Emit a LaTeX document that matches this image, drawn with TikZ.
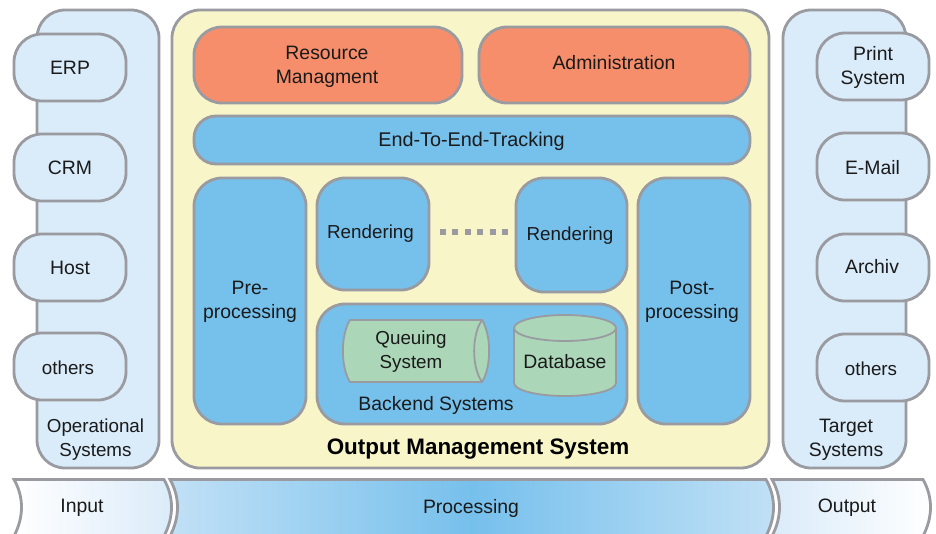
\documentclass[tikz,border=0pt]{standalone}
\usepackage{fontspec}
\setmainfont{Liberation Sans}
\definecolor{framegray}{HTML}{9A9AA1}
\definecolor{lightblue}{HTML}{DAEBF9}
\definecolor{midblue}{HTML}{76C0EC}
\definecolor{paleyellow}{HTML}{F8F5C8}
\definecolor{salmon}{HTML}{F68E6B}
\definecolor{palegreen}{HTML}{ABD7B8}
\definecolor{inktext}{HTML}{1A1A1A}
\tikzset{
  box/.style={draw=framegray, line width=2.8pt, rounded corners=28pt, align=center, inner sep=0pt,
    text=inktext, font=\fontsize{19.4}{24}\selectfont},
  sysbox/.style={box, fill=lightblue, minimum width=112pt, minimum height=67pt},
  bluebox/.style={box, fill=midblue},
  orangebox/.style={box, fill=salmon, minimum height=76pt},
  store/.style={draw=framegray, line width=1.8pt, fill=palegreen},
  storeline/.style={draw=framegray, line width=1.8pt},
  caption/.style={align=center, inner sep=0pt, text=inktext, font=\fontsize{19.4}{24}\selectfont},
  narrowcaption/.style={caption, font=\fontsize{18.8}{24}\selectfont},
  phase/.style={draw=framegray, line width=2.8pt},
}
\begin{document}
\begin{tikzpicture}[x=1pt,y=-1pt]
  \useasboundingbox (0,0) rectangle (936,533);
  % left column
  \node[box, fill=lightblue, minimum width=122pt, minimum height=458pt] (operational) at (98,239) {};
  \node[sysbox] (erp) at (70,67.5) {ERP};
  \node[sysbox] (crm) at (70,167.5) {CRM};
  \node[sysbox] (host) at (70,267.5) {};
  \node[caption] (hostlabel) at (70,268) {Host};
  \node[sysbox] (othersin) at (70,366.5) {};
  \node[narrowcaption] (othersinlabel) at (68,368) {others};
  \node[narrowcaption] (operationallabel) at (95.5,439.5) {Operational\\Systems};
  % main frame
  \node[box, fill=paleyellow, minimum width=597pt, minimum height=458pt] (main) at (470.5,239) {};
  \node[orangebox, minimum width=268pt] (resource) at (328,65) {};
  \node[orangebox, minimum width=271pt] (admin) at (614.5,65) {};
  \node[caption] (resourcelabel) at (327,67) {Resource\\Managment};
  \node[caption] (adminlabel) at (614,63) {Administration};
  \node[bluebox, minimum width=556pt, minimum height=48pt, rounded corners=22pt] (tracking) at (472,140) {};
  \node[caption, font=\fontsize{19.8}{24}\selectfont] (trackinglabel) at (471.5,141) {End-To-End-Tracking};
  \node[bluebox, minimum width=112pt, minimum height=246pt] (pre) at (250,301) {};
  \node[caption] (prelabel) at (250,302) {Pre-\\processing};
  \node[bluebox, minimum width=112pt, minimum height=112pt] (renderleft) at (373,234) {};
  \node[bluebox, minimum width=111pt, minimum height=114pt] (renderright) at (571.5,235) {};
  \node[narrowcaption] (renderleftlabel) at (370.5,234) {Rendering};
  \node[narrowcaption] (renderrightlabel) at (570,236) {Rendering};
  \node[bluebox, minimum width=112pt, minimum height=246pt] (post) at (694,301) {};
  \node[caption] (postlabel) at (692,302) {Post-\\processing};
  \coordinate (dotsleft) at (440,232);
  \coordinate (dotsright) at (508,232);
  \draw[framegray, line width=6pt, dash pattern=on 6pt off 6.4pt] (dotsleft) -- (dotsright);
  % backend
  \node[bluebox, minimum width=310pt, minimum height=120pt] (backend) at (472,364) {};
  \draw[store] (350,320) -- (482,320) .. controls (491.5,335) and (491.5,367) .. (482,382) -- (350,382) .. controls (340.5,367) and (340.5,335) .. (350,320) -- cycle;
  \draw[storeline] (482,320) .. controls (471.5,335) and (471.5,367) .. (482,382);
  \draw[store] (514,328) -- (514,383) arc[start angle=180, end angle=360, x radius=51pt, y radius=13pt] -- (616,328) arc[start angle=0, end angle=180, x radius=51pt, y radius=13pt] -- cycle;
  \draw[storeline] (514,328) arc[start angle=180, end angle=360, x radius=51pt, y radius=13pt];
  \node[narrowcaption] (queuelabel) at (411,352) {Queuing\\System};
  \node[caption] (databaselabel) at (565,362) {Database};
  \node[caption] (backendlabel) at (436,405.5) {Backend Systems};
  \node[inner sep=0pt, text=black, font=\fontsize{22.4}{24}\selectfont\bfseries] (mainlabel) at (478,449) {Output Management System};
  % right column
  \node[box, fill=lightblue, minimum width=123pt, minimum height=458pt] (target) at (844.5,239) {};
  \node[sysbox] (print) at (873,66.5) {};
  \node[caption] (printlabel) at (873,67.5) {Print\\System};
  \node[sysbox] (email) at (873,166.5) {};
  \node[caption] (emaillabel) at (872.5,167.5) {E-Mail};
  \node[sysbox] (archiv) at (873,267.5) {};
  \node[caption] (archivlabel) at (872,267) {Archiv};
  \node[sysbox] (othersout) at (873,367.5) {};
  \node[narrowcaption] (othersoutlabel) at (871,368.5) {others};
  \node[caption] (targetlabel) at (846,439.5) {Target\\Systems};
  % bottom band
  \draw[phase, left color=white, right color=lightblue]
    (14,479.5) .. controls (24,497) and (24,517) .. (14,536) -- (164,536) .. controls (174,517) and (174,497) .. (164,479.5) -- cycle;
  \draw[phase, left color=lightblue!75!midblue, right color=lightblue!75!midblue, middle color=midblue]
    (170,479.5) .. controls (180,497) and (180,517) .. (170,536) -- (766,536) .. controls (776,517) and (776,497) .. (766,479.5) -- cycle;
  \draw[phase, left color=lightblue, right color=white]
    (772,479.5) .. controls (782,497) and (782,517) .. (772,536) -- (923,536) .. controls (933,517) and (933,497) .. (923,479.5) -- cycle;
  \node[caption] (input) at (82,508) {Input};
  \node[caption] (processing) at (471,508) {Processing};
  \node[caption] (output) at (847,508) {Output};
\end{tikzpicture}
\end{document}
